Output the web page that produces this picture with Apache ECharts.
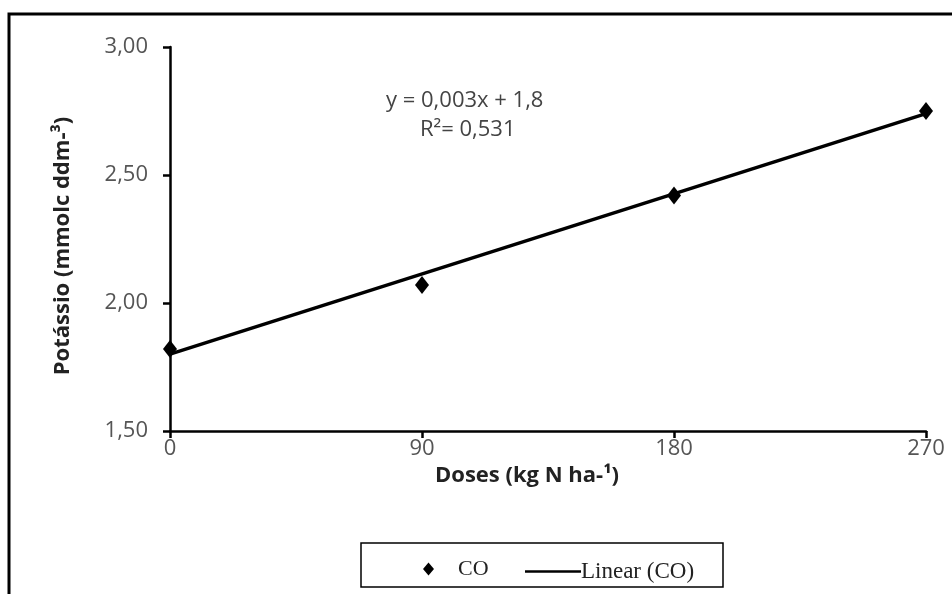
<!DOCTYPE html>
<html>
<head>
<meta charset="utf-8">
<script src="https://cdn.jsdelivr.net/npm/echarts@6/dist/echarts.min.js"></script>
<style>html,body{margin:0;padding:0;background:#fff}#c{width:952px;height:594px}</style>
</head>
<body>
<div id="c"></div>
<script>
// Data
const doses = [0, 90, 180, 270];
const potassio = [1.82, 2.07, 2.42, 2.75];
const trendX = [0, 270];
const trendY = [1.80, 2.74];
const xTicks = [0, 90, 180, 270];
const yTicks = [1.5, 2.0, 2.5, 3.0];
const equation = 'y = 0,003x + 1,8';
const r2 = 'R²= 0,531';

const sans = '"Open Sans", "Liberation Sans", sans-serif';
const serif = '"Liberation Serif", "DejaVu Serif", serif';

const chart = echarts.init(document.getElementById('c'), null, {renderer: 'canvas'});
chart.setOption({
  backgroundColor: '#fff',
  animation: false,
  grid: {left: 170, right: 26, top: 47, bottom: 163, containLabel: false},
  xAxis: {
    type: 'value', min: 0, max: 270, interval: 90,
    name: 'Doses (kg N ha-¹)', nameLocation: 'middle', nameGap: 24,
    nameTextStyle: {fontFamily: sans, fontSize: 22, fontWeight: 'bold', color: '#222',
      verticalAlign: 'top', padding: [0, 42, 0, 0]},
    axisLine: {show: true, lineStyle: {color: '#000', width: 2.5}},
    axisTick: {show: true, length: 7, lineStyle: {color: '#000', width: 2.5}},
    axisLabel: {fontFamily: sans, fontSize: 22, color: '#555', margin: 7,
      formatter: v => String(v)},
    splitLine: {show: false}
  },
  yAxis: {
    type: 'value', min: 1.5, max: 3.0, interval: 0.5,
    name: 'Potássio (mmolc ddm-³)', nameLocation: 'middle', nameGap: 96, nameRotate: 90,
    nameTextStyle: {fontFamily: sans, fontSize: 22, fontWeight: 'bold', color: '#222',
      padding: [0, 14, 0, 0]},
    axisLine: {show: true, lineStyle: {color: '#000', width: 2.5}},
    axisTick: {show: true, length: 7, lineStyle: {color: '#000', width: 2.5}},
    axisLabel: {fontFamily: sans, fontSize: 22, color: '#555', margin: 22,
      formatter: v => v.toFixed(2).replace('.', ',')},
    splitLine: {show: false}
  },
  legend: [
    {data: [{name: 'CO', icon: 'diamond'}], left: 418, top: 553, itemWidth: 11, itemHeight: 13,
     textStyle: {fontFamily: serif, fontSize: 22, color: '#222', padding: [0, 0, 0, 19]}},
    {data: [{name: 'Linear (CO)', icon: 'rect'}], left: 520, top: 555, itemWidth: 56, itemHeight: 2.5,
     textStyle: {fontFamily: serif, fontSize: 23, color: '#222', padding: [0, 0, 0, -5]}}
  ],
  graphic: [
    {type: 'rect', shape: {x: 9, y: 14, width: 980, height: 620},
     style: {fill: 'none', stroke: '#000', lineWidth: 3}, silent: true},
    {type: 'rect', shape: {x: 361, y: 543, width: 362, height: 44},
     style: {fill: 'none', stroke: '#000', lineWidth: 1.5}, silent: true},
    {type: 'text', left: 386, top: 90,
     style: {text: equation, fontFamily: sans, fontSize: 22, fill: '#444'}},
    {type: 'text', left: 420, top: 119,
     style: {text: r2, fontFamily: sans, fontSize: 22, fill: '#444'}}
  ],
  series: [
    {name: 'Linear (CO)', type: 'line', data: trendX.map((x, i) => [x, trendY[i]]),
     symbol: 'none', lineStyle: {color: '#000', width: 3.5}, itemStyle: {color: '#000'}, z: 2},
    {name: 'CO', type: 'scatter', data: doses.map((x, i) => [x, potassio[i]]),
     symbol: 'diamond', symbolSize: [14, 18], itemStyle: {color: '#000', opacity: 1}, z: 3}
  ]
});
</script>
</body>
</html>
